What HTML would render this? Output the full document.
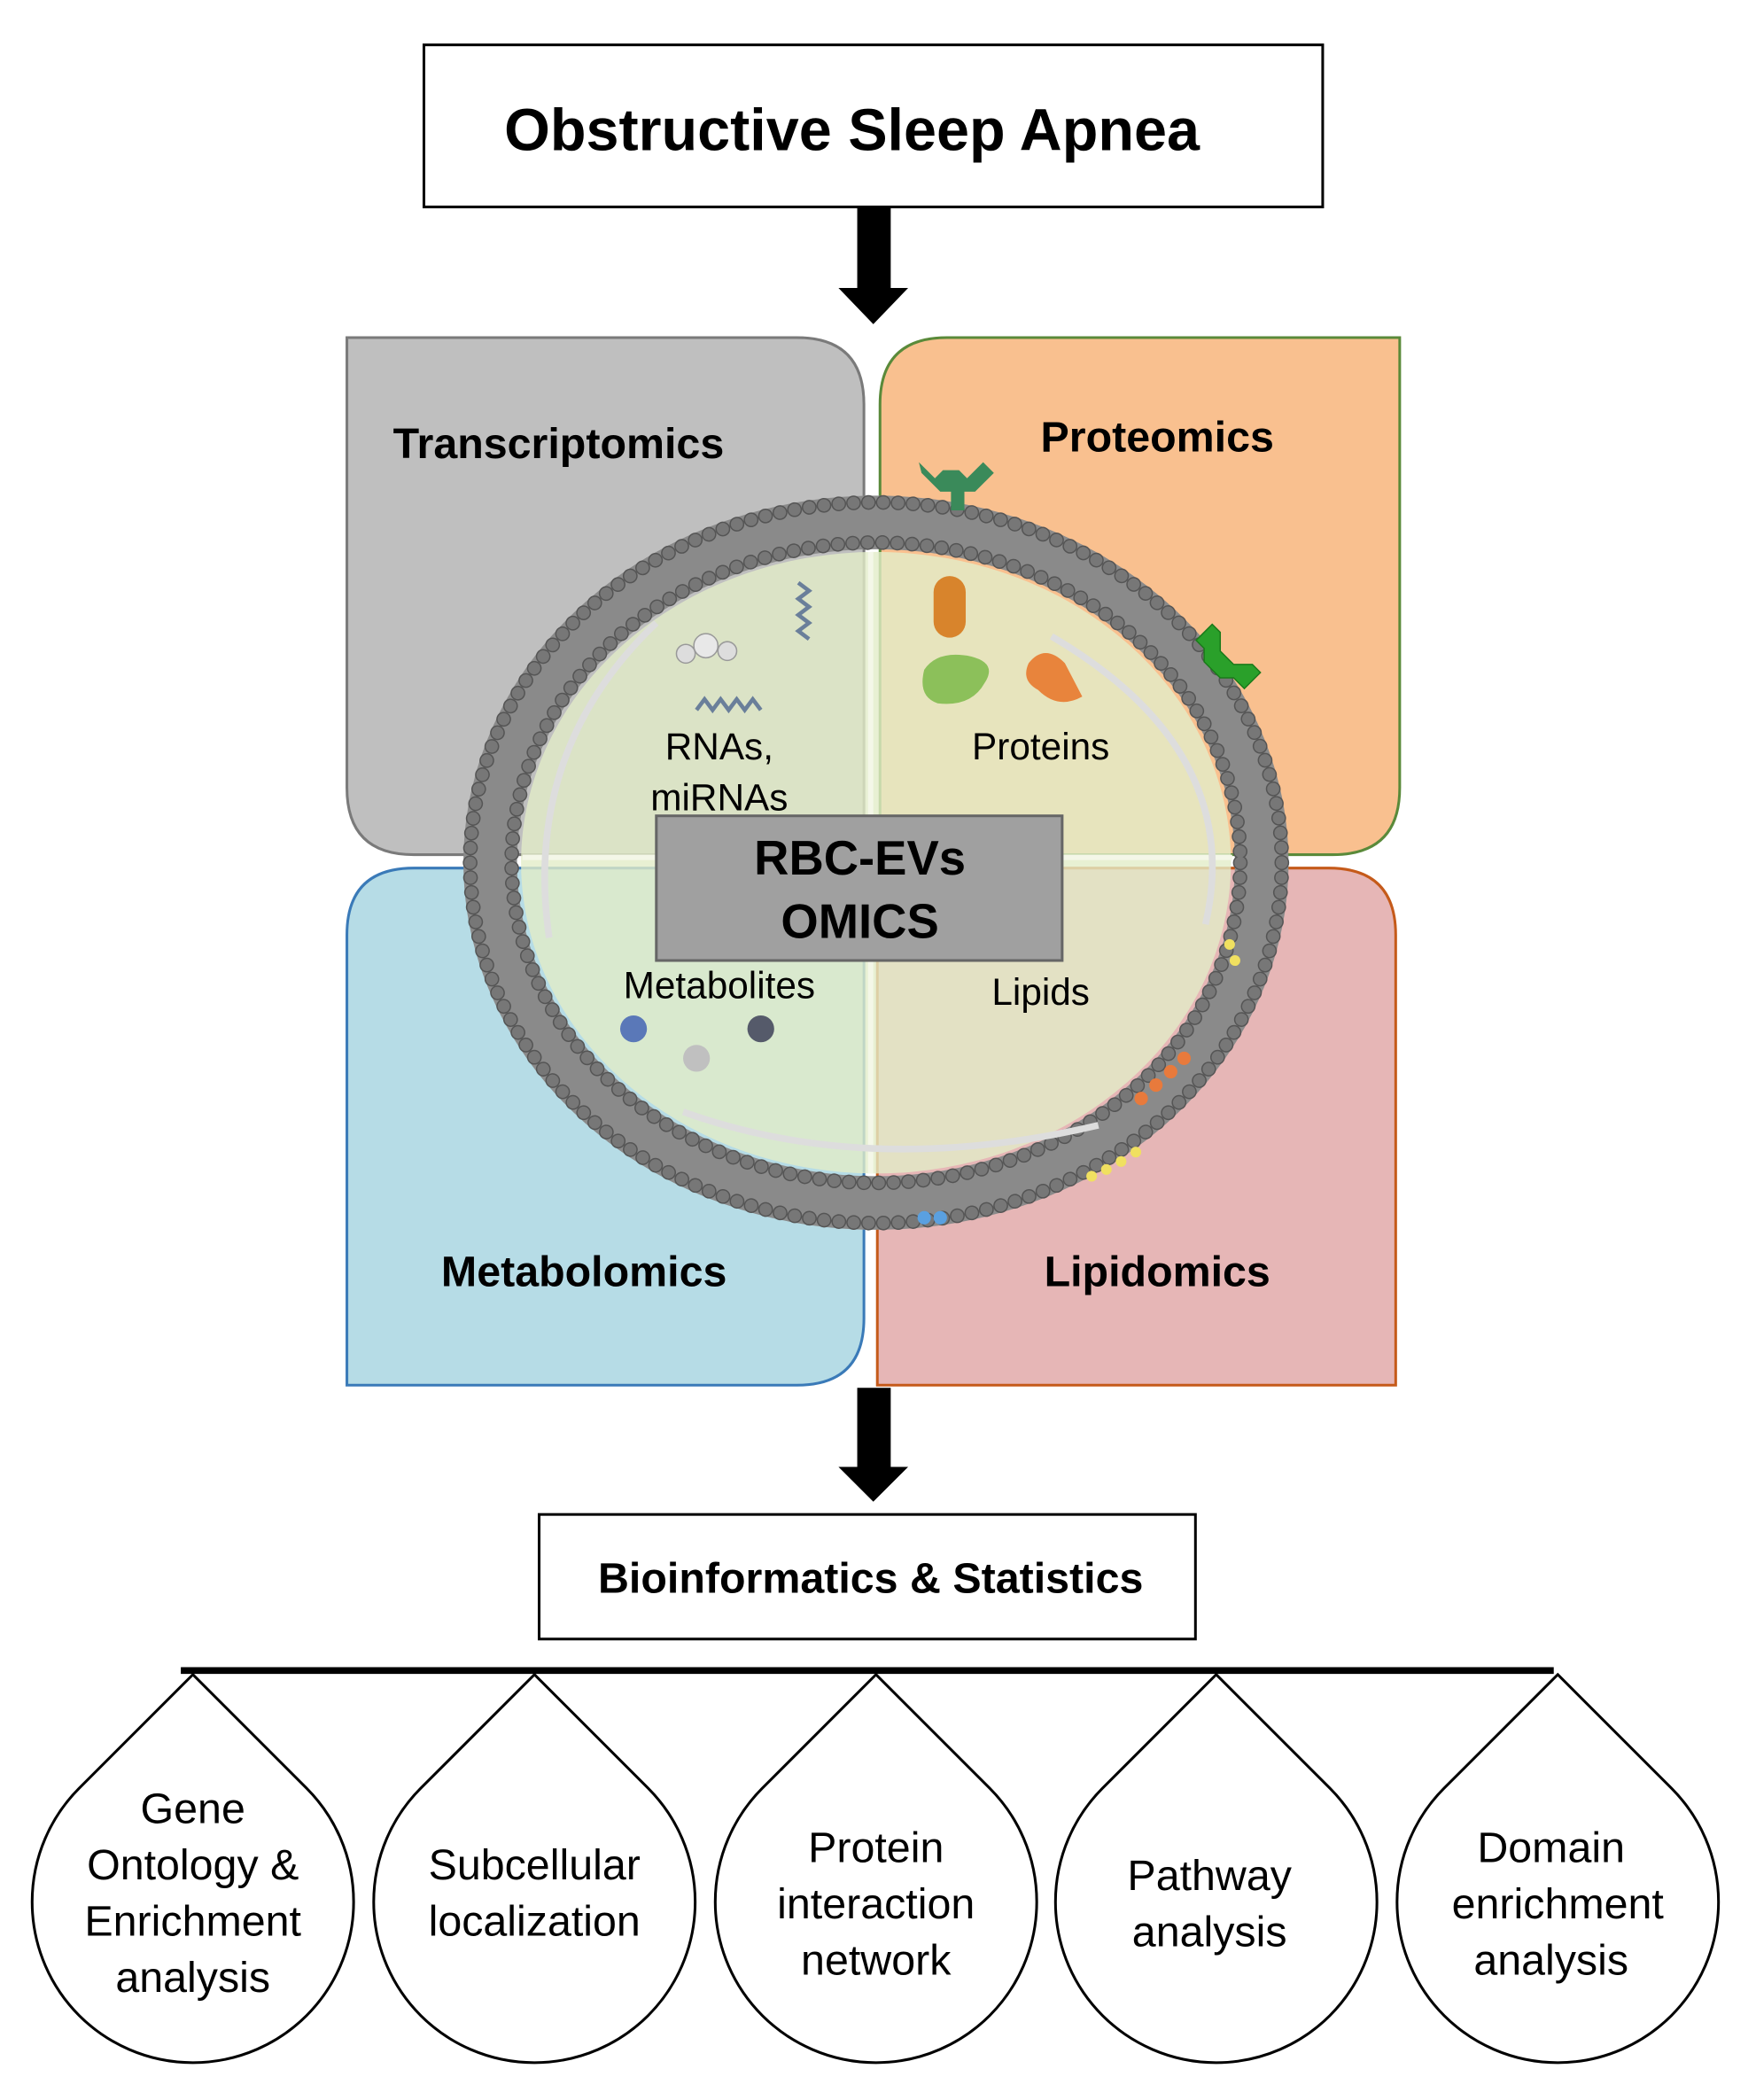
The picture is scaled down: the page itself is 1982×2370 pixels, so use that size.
<!DOCTYPE html>
<html><head><meta charset="utf-8"><style>
html,body{margin:0;padding:0;background:#fff;}
svg{display:block;}
text{font-family:"Liberation Sans",Arial,sans-serif;}
</style></head><body>
<svg width="1982" height="2370" viewBox="0 0 1311 1567.6" preserveAspectRatio="none" xmlns="http://www.w3.org/2000/svg">
<rect width="1311" height="1568" fill="#fff"/>
<!-- title -->
<rect x="316.5" y="33.5" width="671" height="121" fill="#fff" stroke="#000" stroke-width="2"/>
<text x="636" y="112" font-size="44" font-weight="bold" text-anchor="middle">Obstructive Sleep Apnea</text>
<!-- arrow 1 -->
<polygon points="640,154 665,154 665,215 678,215 652,242 626,215 640,215" fill="#000"/>
<!-- quadrants -->
<path d="M259,252 H595 Q645,252 645,302 V638 H309 Q259,638 259,588 Z" fill="#bfbfbf" stroke="#7a7a7a" stroke-width="2"/>
<path d="M707,252 H1045 V588 Q1045,638 995,638 H657 V302 Q657,252 707,252 Z" fill="#f9c08f" stroke="#5a8a3a" stroke-width="2"/>
<path d="M309,648 H645 V984 Q645,1034 595,1034 H259 V698 Q259,648 309,648 Z" fill="#b6dce6" stroke="#3a7ab8" stroke-width="2"/>
<path d="M655,648 H992 Q1042,648 1042,698 V1034 H655 V698 Z" fill="#e6b6b6" stroke="#c55a1a" stroke-width="2"/>
<text x="417" y="342" font-size="32" font-weight="bold" text-anchor="middle">Transcriptomics</text>
<text x="864" y="337" font-size="32" font-weight="bold" text-anchor="middle">Proteomics</text>
<text x="436" y="960" font-size="32" font-weight="bold" text-anchor="middle">Metabolomics</text>
<text x="864" y="960" font-size="32" font-weight="bold" text-anchor="middle">Lipidomics</text>
<!-- cell -->
<ellipse cx="654" cy="644" rx="265" ry="232" fill="#e2ecc8" fill-opacity="0.8"/>
<line x1="650" y1="412" x2="650" y2="876" stroke="#f4f7e8" stroke-width="4"/>
<line x1="390" y1="640" x2="920" y2="640" stroke="#f4f7e8" stroke-width="4"/>
<ellipse cx="654" cy="644" rx="288" ry="254" fill="none" stroke="#8a8a8a" stroke-width="40"/>
<ellipse cx="654" cy="644" rx="303" ry="269" fill="none" stroke="#555" stroke-width="11" stroke-dasharray="0.1 11" stroke-linecap="round"/>
<ellipse cx="654" cy="644" rx="303" ry="269" fill="none" stroke="#777" stroke-width="9" stroke-dasharray="0.1 11" stroke-linecap="round"/>
<ellipse cx="654" cy="644" rx="272" ry="239" fill="none" stroke="#555" stroke-width="11" stroke-dasharray="0.1 11" stroke-linecap="round"/>
<ellipse cx="654" cy="644" rx="272" ry="239" fill="none" stroke="#777" stroke-width="9" stroke-dasharray="0.1 11" stroke-linecap="round"/>
<path d="M490,465 Q390,560 410,700" fill="none" stroke="#ddd" stroke-width="5"/>
<path d="M785,475 Q930,560 900,690" fill="none" stroke="#ddd" stroke-width="5"/>
<path d="M510,830 Q650,880 820,840" fill="none" stroke="#ddd" stroke-width="5"/>
<!-- molecules -->
<circle cx="512" cy="488" r="7" fill="#ddd" stroke="#999"/><circle cx="527" cy="482" r="9" fill="#e8e8e8" stroke="#999"/><circle cx="543" cy="486" r="7" fill="#ddd" stroke="#999"/>
<path d="M520,530 l6,-8 l6,8 l6,-8 l6,8 l6,-8 l6,8 l6,-8 l6,8" fill="none" stroke="#6a7f9a" stroke-width="3"/>
<path d="M596,435 l8,6 l-8,6 l8,6 l-8,6 l8,6 l-8,6 l8,6" fill="none" stroke="#6a7f9a" stroke-width="3"/>
<rect x="697" y="430" width="24" height="46" rx="12" fill="#d8842c"/>
<path d="M690,500 Q700,485 725,490 Q745,495 735,510 Q725,528 700,525 Q685,520 690,500Z" fill="#8cc05a"/>
<path d="M768,495 Q780,480 795,495 L808,520 Q790,530 775,515 Q762,508 768,495Z" fill="#e8843c"/>
<path d="M686,345 l12,12 l6,-6 l12,0 l6,6 l12,-12 l8,8 l-14,14 l-8,0 l0,14 l-10,0 l0,-14 l-8,0 l-14,-14Z" fill="#3a8a5a"/>
<path d="M893,478 l12,-12 l6,6 l0,14 l10,10 l14,0 l6,6 l-12,12 l-8,-8 l-10,0 l-12,-12 l0,-10 Z" fill="#2aa02a" stroke="#1a7a1a"/>
<circle cx="473" cy="768" r="10" fill="#5a78b8"/><circle cx="520" cy="790" r="10" fill="#c0c0c0"/><circle cx="568" cy="768" r="10" fill="#555a6a"/>
<g fill="#f0e060"><circle cx="815" cy="878" r="4"/><circle cx="826" cy="873" r="4"/><circle cx="837" cy="867" r="4"/><circle cx="848" cy="860" r="4"/><circle cx="918" cy="705" r="4"/><circle cx="922" cy="717" r="4"/></g>
<g fill="#e87a3c"><circle cx="852" cy="820" r="5"/><circle cx="863" cy="810" r="5"/><circle cx="874" cy="800" r="5"/><circle cx="884" cy="790" r="5"/></g>
<circle cx="690" cy="909" r="5" fill="#5aa0e0"/><circle cx="702" cy="909" r="5" fill="#5aa0e0"/>
<text x="537" y="567" font-size="28" text-anchor="middle">RNAs,</text>
<text x="537" y="605" font-size="28" text-anchor="middle">miRNAs</text>
<text x="777" y="567" font-size="28" text-anchor="middle">Proteins</text>
<text x="537" y="745" font-size="28" text-anchor="middle">Metabolites</text>
<text x="777" y="750" font-size="28" text-anchor="middle">Lipids</text>
<rect x="490" y="609" width="303" height="108" fill="#a0a0a0" stroke="#666" stroke-width="2"/>
<text x="642" y="653" font-size="36" font-weight="bold" text-anchor="middle">RBC-EVs</text>
<text x="642" y="700" font-size="36" font-weight="bold" text-anchor="middle">OMICS</text>
<!-- arrow 2 -->
<polygon points="640,1036 665,1036 665,1095 678,1095 652,1121 626,1095 640,1095" fill="#000"/>
<rect x="402.5" y="1130.5" width="490" height="93" fill="#fff" stroke="#000" stroke-width="2"/>
<text x="650" y="1189" font-size="32" font-weight="bold" text-anchor="middle">Bioinformatics &amp; Statistics</text>
<line x1="135" y1="1247" x2="1160" y2="1247" stroke="#000" stroke-width="5"/>
<g fill="#fff" stroke="#000" stroke-width="2">
<path d="M144,1250 L229,1335 A120,120 0 1 1 59,1335 Z"/>
<path d="M399,1250 L484,1335 A120,120 0 1 1 314,1335 Z"/>
<path d="M654,1250 L739,1335 A120,120 0 1 1 569,1335 Z"/>
<path d="M908,1250 L993,1335 A120,120 0 1 1 823,1335 Z"/>
<path d="M1163,1250 L1248,1335 A120,120 0 1 1 1078,1335 Z"/>
</g>
<g font-size="32" text-anchor="middle">
<text x="144" y="1361">Gene</text><text x="144" y="1403">Ontology &amp;</text><text x="144" y="1445">Enrichment</text><text x="144" y="1487">analysis</text>
<text x="399" y="1403">Subcellular</text><text x="399" y="1445">localization</text>
<text x="654" y="1390">Protein</text><text x="654" y="1432">interaction</text><text x="654" y="1474">network</text>
<text x="903" y="1411">Pathway</text><text x="903" y="1453">analysis</text>
<text x="1158" y="1390">Domain</text><text x="1163" y="1432">enrichment</text><text x="1158" y="1474">analysis</text>
</g>
</svg>
</body></html>
